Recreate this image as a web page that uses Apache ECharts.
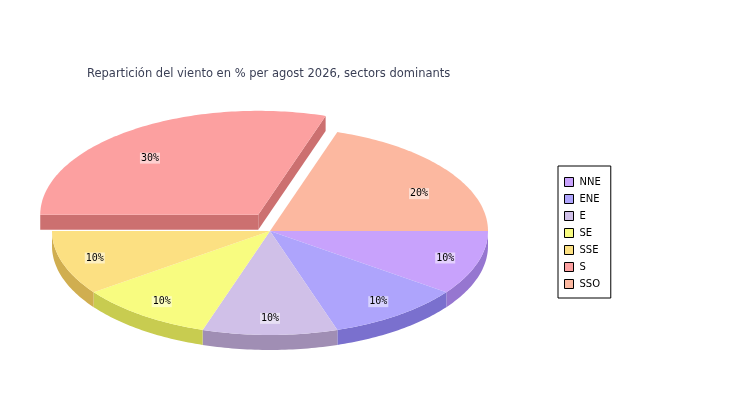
<!DOCTYPE html>
<html>
<head>
<meta charset="utf-8">
<script src="https://cdn.jsdelivr.net/npm/echarts@6/dist/echarts.min.js"></script>
<style>
  html, body { margin: 0; padding: 0; background: #fff; }
  #chart { width: 750px; height: 400px; }
</style>
</head>
<body>
<div id="chart"></div>
<script>
// wind sectors and their share (%)
var sectors = ['NNE', 'ENE', 'E', 'SE', 'SSE', 'S', 'SSO'];
var shares = [10, 10, 10, 10, 10, 30, 20];
var exploded = ['S'];
var topColors = ['#c8a2fc', '#aea4fc', '#d0c0e8', '#f8fc80', '#fce082', '#fca0a0', '#fcb8a0'];
var wallColors = ['#9676d0', '#7a70ce', '#a08eb4', '#c8cc50', '#d0ae50', '#cc7070', '#ce8c74'];

// pie geometry (pixels)
var CX = 270, CY = 231, RX = 218, RY = 104, DEPTH = 15, EXPLODE = 20;

var total = shares.reduce(function (a, b) { return a + b; }, 0);
var starts = [];
var acc = 0;
shares.forEach(function (v) { starts.push(acc / total * 360); acc += v; });

function rad(d) { return d * Math.PI / 180; }

function arc(a1, a2, ox, oy, dy) {
    var pts = [];
    var n = Math.max(2, Math.ceil((a2 - a1) / 1));
    for (var k = 0; k <= n; k++) {
        var a = rad(a1 + (a2 - a1) * k / n);
        pts.push([CX + ox + RX * Math.cos(a), CY + oy + RY * Math.sin(a) + dy]);
    }
    return pts;
}

function sliceRenderer(i) {
    return function (params, api) {
        var a1 = starts[i];
        var a2 = a1 + api.value(0) / total * 360;
        var mid = rad((a1 + a2) / 2);
        var ox = 0, oy = 0;
        if (exploded.indexOf(sectors[i]) >= 0) {
            ox = EXPLODE * Math.cos(mid);
            oy = EXPLODE * Math.sin(mid);
        }
        var children = [];
        var c = [CX + ox, CY + oy];

        // outer rim, only the front half shows
        var lo = Math.max(a1, 0), hi = Math.min(a2, 180);
        if (lo < hi) {
            var top = arc(lo, hi, ox, oy, 0);
            var bottom = arc(lo, hi, ox, oy, DEPTH).reverse();
            children.push({
                type: 'polygon', z2: 0,
                shape: { points: top.concat(bottom) },
                style: { fill: wallColors[i] }
            });
        }

        // cut faces for the pulled out slice
        if (ox !== 0 || oy !== 0) {
            [a1, a2].forEach(function (a) {
                var e = [c[0] + RX * Math.cos(rad(a)), c[1] + RY * Math.sin(rad(a))];
                children.push({
                    type: 'polygon', z2: 1,
                    shape: { points: [c, e, [e[0], e[1] + DEPTH], [c[0], c[1] + DEPTH]] },
                    style: { fill: wallColors[i] }
                });
            });
        }

        // top face
        children.push({
            type: 'polygon', z2: 10,
            shape: { points: [c].concat(arc(a1, a2, ox, oy, 0)) },
            style: { fill: topColors[i] }
        });

        // percentage label
        var lx = c[0] + 0.845 * RX * Math.cos(mid);
        var ly = c[1] + 0.84 * RY * Math.sin(mid) + (Math.sin(mid) < 0 ? 14 : 0);
        children.push({
            type: 'text', z2: 20,
            x: lx, y: ly,
            style: {
                text: Math.round(api.value(0) / total * 100) + '%',
                fontFamily: 'DejaVu Sans Mono', fontSize: 10,
                fill: '#000', align: 'center', verticalAlign: 'middle',
                backgroundColor: 'rgba(255,255,255,0.5)', padding: [1, 1, 0, 1]
            }
        });
        return { type: 'group', children: children };
    };
}

var series = sectors.map(function (name, i) {
    return {
        type: 'custom',
        name: name,
        coordinateSystem: 'none',
        itemStyle: { color: topColors[i] },
        renderItem: sliceRenderer(i),
        data: [[shares[i]]],
        silent: true
    };
});

var chart = echarts.init(document.getElementById('chart'));
chart.setOption({
    animation: false,
    backgroundColor: '#fff',
    title: {
        text: 'Repartición del viento en % per agost 2026, sectors dominants',
        left: 82,
        top: 63,
        textStyle: { fontFamily: 'DejaVu Sans', fontSize: 11.5, fontWeight: 'normal', color: '#3a3f55' }
    },
    legend: {
        orient: 'vertical',
        left: 558,
        top: 166,
        data: sectors,
        icon: 'rect',
        itemWidth: 9,
        itemHeight: 9,
        itemGap: 5,
        padding: [10, 10, 8, 6],
        backgroundColor: '#fff',
        borderColor: '#000',
        borderWidth: 1,
        borderRadius: 0,
        selectedMode: false,
        itemStyle: { borderColor: '#000', borderWidth: 1 },
        textStyle: { fontFamily: 'DejaVu Sans', fontSize: 10, color: '#000', lineHeight: 12, padding: [0, 0, 0, 1] }
    },
    series: series
});
</script>
</body>
</html>
